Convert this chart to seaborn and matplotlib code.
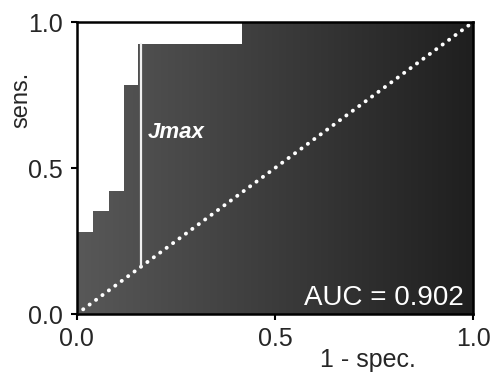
import matplotlib
matplotlib.use("Agg")
import matplotlib.pyplot as plt
import seaborn as sns
import numpy as np
import pandas as pd

# ROC curve points (step function)
fpr = [0.0, 0.040, 0.082, 0.118, 0.155, 0.416, 1.0]
tpr = [0.282, 0.354, 0.422, 0.783, 0.924, 1.0, 1.0]
jmax_x = 0.163
jmax_top = 0.924
auc_label = "AUC = 0.902"
ticks = [0.0, 0.5, 1.0]
tick_labels = ["0.0", "0.5", "1.0"]

sns.set_style("ticks")
plt.rcParams['font.family'] = ['Liberation Sans', 'DejaVu Sans']

fig = plt.figure(figsize=(4.95, 3.73), dpi=100)
ax = fig.add_axes([0.155, 0.158, 0.801, 0.783])

# area under the curve, filled with a left-to-right gray gradient
poly = ax.fill_between(fpr, tpr, 0, step='post', color='none', lw=0)
grad = np.linspace(0, 1, 256).reshape(1, -1)
cmap = matplotlib.colors.LinearSegmentedColormap.from_list('g', ['#585858', '#1f1f1f'])
im = ax.imshow(grad, extent=[0, 1, 0, 1], aspect='auto', cmap=cmap, origin='lower', zorder=1)
path = poly.get_paths()[0]
im.set_clip_path(path, transform=ax.transData)

# chance diagonal
diag = pd.DataFrame({'x': [0, 1], 'y': [0, 1]})
sns.lineplot(data=diag, x='x', y='y', ax=ax, color='white', lw=2.8,
             linestyle=(0, (0.05, 2.0)), dash_capstyle='round', zorder=3)

# Youden's J max
ax.plot([jmax_x, jmax_x], [jmax_x, jmax_top], color='#f0f0f0', lw=1.6, zorder=3)
ax.text(0.179, 0.62, "Jmax", color='white', fontsize=16, fontweight='bold',
        fontstyle='italic', va='center', ha='left', zorder=4)
ax.text(0.975, 0.012, auc_label, color='white', fontsize=20, ha='right', va='bottom', zorder=4)

ax.set_xlim(0, 1)
ax.set_ylim(0, 1)
ax.set_xticks(ticks)
ax.set_xticklabels(tick_labels)
ax.set_yticks(ticks)
ax.set_yticklabels(tick_labels)
ax.tick_params(labelsize=18, length=4, width=1.5, color='black')
ax.tick_params(axis='x', pad=5)
ax.tick_params(axis='y', pad=6)
ax.set_xlabel("1 - spec.", fontsize=18)
ax.set_ylabel("sens.", fontsize=17)
ax.xaxis.set_label_coords(0.735, -0.115)
ax.yaxis.set_label_coords(-0.112, 0.733)
for s in ax.spines.values():
    s.set_linewidth(1.8)
    s.set_color('black')
    s.set_zorder(5)

fig.savefig("out.png", dpi=100)
